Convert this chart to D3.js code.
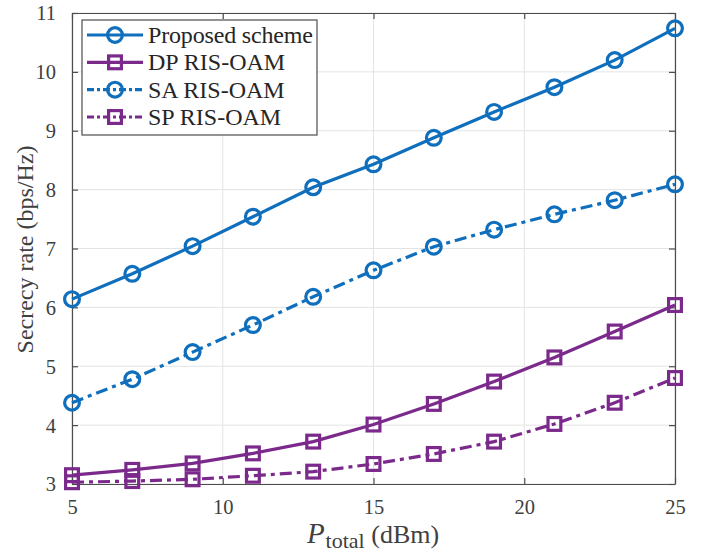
<!DOCTYPE html>
<html><head><meta charset="utf-8">
<script src="https://cdn.jsdelivr.net/npm/d3@7"></script>
<style>body{margin:0;background:#fff}svg{display:block}</style>
</head><body>
<svg id="c" width="710" height="555"></svg>
<script>
const xVals = [5,7,9,11,13,15,17,19,21,23,25];
const proposed = [6.14,6.57,7.04,7.54,8.04,8.43,8.88,9.32,9.74,10.2,10.74];
const dpRis = [3.15,3.24,3.35,3.52,3.72,4.01,4.36,4.74,5.15,5.59,6.04];
const saRis = [4.38,4.78,5.24,5.70,6.18,6.63,7.03,7.32,7.58,7.82,8.09];
const spRis = [3.03,3.05,3.08,3.14,3.21,3.34,3.51,3.72,4.02,4.38,4.80];
const xTicks = [5,10,15,20,25];
const yTicks = [3,4,5,6,7,8,9,10,11];
const seriesNames = ["Proposed scheme","DP RIS-OAM","SA RIS-OAM","SP RIS-OAM"];

const blue = "#0f6fbc", purple = "#7b2a8c";
const series = [
  {name: seriesNames[0], vals: proposed, color: blue, dash: null, marker: "circle"},
  {name: seriesNames[1], vals: dpRis, color: purple, dash: null, marker: "square"},
  {name: seriesNames[2], vals: saRis, color: blue, dash: "12,5,4,5", marker: "circle"},
  {name: seriesNames[3], vals: spRis, color: purple, dash: "12,5,4,5", marker: "square"}
];

const L = 72, R = 675, T = 13, B = 484;
const x = d3.scaleLinear().domain([5,25]).range([L,R]);
const y = d3.scaleLinear().domain([3,11]).range([B,T]);
const svg = d3.select("#c");
const font = "'Liberation Serif','Times New Roman',serif";
const axisCol = "#4d4d4d";

// grid
const g = svg.append("g");
g.selectAll(".gx").data(xTicks).enter().append("line")
  .attr("x1", d=>x(d)).attr("x2", d=>x(d)).attr("y1", T).attr("y2", B)
  .attr("stroke", "#e3e3e3").attr("stroke-width", 1);
g.selectAll(".gy").data(yTicks).enter().append("line")
  .attr("y1", d=>y(d)).attr("y2", d=>y(d)).attr("x1", L).attr("x2", R)
  .attr("stroke", "#e3e3e3").attr("stroke-width", 1);

// axes via d3 axis (inward ticks)
const tk = 6;
const axB = svg.append("g").attr("transform", `translate(0,${B})`)
  .call(d3.axisBottom(x).tickValues(xTicks).tickSizeInner(-tk).tickSizeOuter(0).tickPadding(15));
const axT = svg.append("g").attr("transform", `translate(0,${T})`)
  .call(d3.axisTop(x).tickValues(xTicks).tickSizeInner(-tk).tickSizeOuter(0).tickFormat(""));
const axL = svg.append("g").attr("transform", `translate(${L},0)`)
  .call(d3.axisLeft(y).tickValues(yTicks).tickSizeInner(-tk).tickSizeOuter(0).tickPadding(16));
const axR = svg.append("g").attr("transform", `translate(${R},0)`)
  .call(d3.axisRight(y).tickValues(yTicks).tickSizeInner(-tk).tickSizeOuter(0).tickFormat(""));
[axB,axT,axL,axR].forEach(a=>{
  a.select(".domain").attr("stroke", axisCol).attr("stroke-width", 1.2);
  a.selectAll(".tick line").attr("stroke", axisCol).attr("stroke-width", 1.2);
  a.selectAll("text").attr("fill", "#404040").style("font-family", font).style("font-size", "20.5px");
});
axB.selectAll(".tick text").attr("dy", "0.71em");
axL.selectAll(".tick text").attr("dy", "0.34em");

// lines
const line = d3.line().x((d,i)=>x(xVals[i])).y(d=>y(d));
series.forEach(s=>{
  svg.append("path").datum(s.vals).attr("d", line)
    .attr("fill","none").attr("stroke", s.color).attr("stroke-width", 3.2)
    .attr("stroke-dasharray", s.dash);
  drawMarkers(svg, s, s.vals.map((v,i)=>[x(xVals[i]), y(v)]));
});

function drawMarkers(parent, s, pts){
  if (s.marker === "circle") {
    parent.selectAll(null).data(pts).enter().append("circle")
      .attr("cx", d=>d[0]).attr("cy", d=>d[1]).attr("r", 7.4)
      .attr("fill","none").attr("stroke", s.color).attr("stroke-width", 3.2);
  } else {
    parent.selectAll(null).data(pts).enter().append("rect")
      .attr("x", d=>d[0]-6.4).attr("y", d=>d[1]-6.4).attr("width", 12.8).attr("height", 12.8)
      .attr("fill","none").attr("stroke", s.color).attr("stroke-width", 3.2);
  }
}

// legend
const lg = svg.append("g");
lg.append("rect").attr("x", 82).attr("y", 20).attr("width", 235).attr("height", 115)
  .attr("fill","#fff").attr("stroke", axisCol).attr("stroke-width", 1.2);
const rowY = d3.scalePoint().domain(seriesNames).range([35, 117]);
series.forEach(s=>{
  const cy = rowY(s.name);
  lg.append("line").attr("x1", 87).attr("x2", 143).attr("y1", cy).attr("y2", cy)
    .attr("stroke", s.color).attr("stroke-width", 3.2).attr("stroke-dasharray", s.dash ? "7,3,3,3" : null);
  drawMarkers(lg, s, [[115, cy]]);
  lg.append("text").attr("x", 148).attr("y", cy).attr("dy", "0.33em")
    .style("font-family", font).style("font-size", "24px").attr("fill", "#262626")
    .attr("textLength", s.name === seriesNames[0] ? 165 : null).text(s.name);
});

// axis labels
svg.append("text").attr("transform", `translate(33,${(T+B)/2+1}) rotate(-90)`)
  .attr("text-anchor","middle").style("font-family", font).style("font-size","24px")
  .attr("fill","#404040").text("Secrecy rate (bps/Hz)");
const xl = svg.append("text").attr("x", 373).attr("y", 543).attr("text-anchor","middle")
  .style("font-family", font).style("font-size","26px").attr("fill","#404040");
xl.append("tspan").style("font-style","italic").style("font-size","29px").text("P");
xl.append("tspan").attr("dx", 1).attr("dy", 5).style("font-size","22px").text("total");
xl.append("tspan").attr("dy", -5).text(" (dBm)");
</script>
</body></html>
